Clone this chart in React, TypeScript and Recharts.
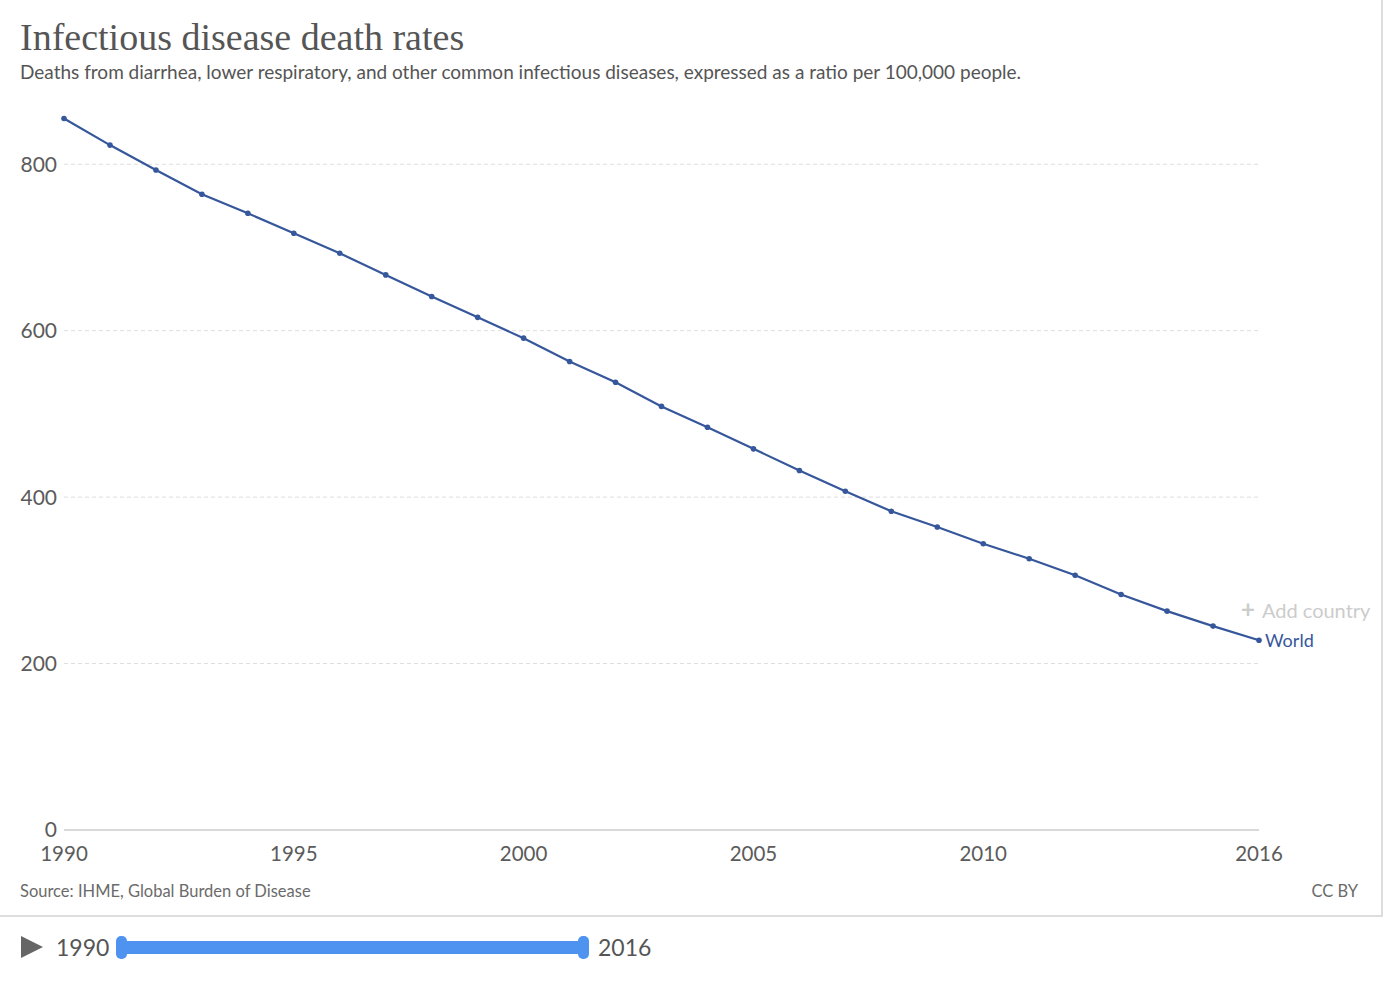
import { CartesianGrid, Line, LineChart, XAxis, YAxis } from "recharts";

const years = [1990, 1991, 1992, 1993, 1994, 1995, 1996, 1997, 1998, 1999, 2000, 2001, 2002, 2003, 2004, 2005, 2006, 2007, 2008, 2009, 2010, 2011, 2012, 2013, 2014, 2015, 2016];
const worldRates = [855, 823, 793, 764, 741, 717, 693, 667, 641, 616, 591, 563, 538, 509, 484, 458, 432, 407, 383, 364, 344, 326, 306, 283, 263, 245, 228];
const yTicks = [0, 200, 400, 600, 800];
const xTicks = [1990, 1995, 2000, 2005, 2010, 2016];
const seriesName = "World";

const data = years.map((year, i) => ({ year, world: worldRates[i] }));

const ink = "#36579b";
const lato = "Lato, 'Noto Sans', sans-serif";

function EndLabel(props: any) {
  const { x, y, index } = props;
  if (index !== data.length - 1) return null;
  return (
    <text x={x + 6} y={y} dy="0.35em" fill={ink} fontSize={18} fontFamily={lato}>
      {seriesName}
    </text>
  );
}

export default function App() {
  return (
    <div style={{ position: "absolute", left: 0, top: 0, width: 1384, height: 1002, background: "#fff", fontFamily: lato }}>
      <div style={{ position: "absolute", left: 0, top: 0, width: 1381, height: 915, borderRight: "2px solid #ddd", borderBottom: "2px solid #ddd" }} />
      <div style={{ position: "absolute", left: 20, top: 15, fontFamily: "'Liberation Serif', 'DejaVu Serif', serif", fontSize: 38, color: "#555", whiteSpace: "nowrap" }}>
        Infectious disease death rates
      </div>
      <div style={{ position: "absolute", left: 20, top: 60, fontSize: 19, color: "#555", whiteSpace: "nowrap" }}>
        Deaths from diarrhea, lower respiratory, and other common infectious diseases, expressed as a ratio per 100,000 people.
      </div>

      <div style={{ position: "absolute", left: 0, top: 0 }}>
        <LineChart width={1384} height={870} data={data} margin={{ top: 81, right: 125, bottom: 0, left: 0 }}>
          <CartesianGrid vertical={false} horizontalValues={yTicks.filter((t) => t > 0)} stroke="#ddd" strokeDasharray="4 3" />
          <XAxis
            dataKey="year"
            type="number"
            domain={[1990, 2016]}
            ticks={xTicks}
            height={40}
            tickLine={false}
            tickSize={0}
            tickMargin={16}
            axisLine={{ stroke: "#ccc", strokeWidth: 1.5 }}
            tick={{ fill: "#5b5b5b", fontSize: 20.5, fontFamily: lato }}
            interval={0}
          />
          <YAxis
            type="number"
            domain={[0, 900]}
            ticks={yTicks}
            width={64}
            axisLine={false}
            tickLine={false}
            tickSize={0}
            tickMargin={7}
            tick={{ fill: "#5b5b5b", fontSize: 21, fontFamily: lato }}
            interval={0}
          />
          <Line
            dataKey="world"
            stroke={ink}
            strokeWidth={2.2}
            dot={{ r: 2.8, fill: ink, stroke: ink, strokeWidth: 0 }}
            isAnimationActive={false}
            label={<EndLabel />}
          />
        </LineChart>
      </div>

      <div style={{ position: "absolute", left: 1241, top: 597, fontSize: 20, color: "#ccc", whiteSpace: "nowrap", lineHeight: "24px" }}>
        <span style={{ fontSize: 24, fontWeight: 700, marginRight: 7 }}>+</span>Add country
      </div>

      <div style={{ position: "absolute", left: 20, top: 881, fontSize: 16.5, color: "#6b6b6b", whiteSpace: "nowrap" }}>
        Source: IHME, Global Burden of Disease
      </div>
      <div style={{ position: "absolute", right: 26, top: 881, fontSize: 16.5, color: "#6b6b6b", whiteSpace: "nowrap" }}>CC BY</div>

      <svg style={{ position: "absolute", left: 20, top: 935 }} width={26} height={26}>
        <polygon points="1,1 23,12 1,23" fill="#666" />
      </svg>
      <div style={{ position: "absolute", left: 56, top: 933, fontSize: 23, color: "#555" }}>1990</div>
      <div style={{ position: "absolute", left: 120, top: 941, width: 465, height: 13, background: "#4e93f0", borderRadius: 3 }} />
      <div style={{ position: "absolute", left: 116, top: 936, width: 11, height: 23, background: "#4e93f0", borderRadius: 5 }} />
      <div style={{ position: "absolute", left: 578, top: 936, width: 11, height: 23, background: "#4e93f0", borderRadius: 5 }} />
      <div style={{ position: "absolute", left: 598, top: 933, fontSize: 23, color: "#555" }}>2016</div>
    </div>
  );
}
